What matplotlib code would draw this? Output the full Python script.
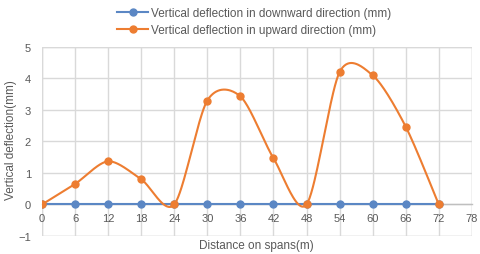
import numpy as np
import matplotlib
matplotlib.use("Agg")
import matplotlib.pyplot as plt
from matplotlib.patches import Rectangle

distance = [0, 6, 12, 18, 24, 30, 36, 42, 48, 54, 60, 66, 72]
downward = [0, 0, 0, 0, 0, 0, 0, 0, 0, 0, 0, 0, 0]
upward = [0, 0.65, 1.37, 0.8, 0, 3.3, 3.43, 1.47, 0, 4.2, 4.1, 2.47, 0]
x_ticks = [0, 6, 12, 18, 24, 30, 36, 42, 48, 54, 60, 66, 72, 78]
y_ticks = [-1, 0, 1, 2, 3, 4, 5]

BLUE = "#5b87c4"
ORANGE = "#ed7d31"
GRID = "#d9d9d9"
TXT = "#595959"
FONT = "Liberation Sans"


def smooth(xs, ys, n=40, k=7.0):
    p = np.column_stack([xs, ys]).astype(float)
    out = []
    m = len(p)
    for i in range(m - 1):
        p0 = p[i - 1] if i > 0 else p[i]
        p1 = p[i]
        p2 = p[i + 1]
        p3 = p[i + 2] if i + 2 < m else p[i + 1]
        c1 = p1 + (p2 - p0) / k
        c2 = p2 - (p3 - p1) / k
        t = np.linspace(0, 1, n)[:, None]
        seg = ((1 - t) ** 3) * p1 + 3 * ((1 - t) ** 2) * t * c1 + 3 * (1 - t) * t ** 2 * c2 + t ** 3 * p2
        out.append(seg if i == 0 else seg[1:])
    s = np.vstack(out)
    return s[:, 0], s[:, 1]


fig = plt.figure(figsize=(4.8, 2.55), dpi=100)
ax = fig.add_axes([0.0875, 0.0706, 0.8955, 0.7414])

ax.set_xlim(0, 78)
ax.set_ylim(-1, 5)
ax.set_xticks(x_ticks)
ax.set_yticks(y_ticks)
ax.grid(True, color=GRID, linewidth=1.0)
ax.set_axisbelow(True)

for s in ["top", "right", "left"]:
    ax.spines[s].set_visible(False)
ax.spines["bottom"].set_position(("data", 0))
ax.spines["bottom"].set_color("#bfbfbf")
ax.spines["bottom"].set_linewidth(1.0)
ax.add_patch(Rectangle((0, 0), 1, 1, transform=ax.transAxes, fill=False,
                       edgecolor=GRID, linewidth=1.0, zorder=0.5))

ax.tick_params(axis="both", length=0, colors=TXT, labelsize=8)
ax.tick_params(axis="x", pad=6)
ax.tick_params(axis="y", pad=8)
for lab in ax.get_xticklabels() + ax.get_yticklabels():
    lab.set_fontfamily(FONT)

sx, sy = smooth(distance, downward)
ax.plot(sx, sy, color=BLUE, linewidth=1.5, zorder=3)
ax.plot(distance, downward, linestyle="none", marker="o", markersize=5,
        color=BLUE, zorder=4)
ux, uy = smooth(distance, upward)
ax.plot(ux, uy, color=ORANGE, linewidth=1.5, zorder=5)
ax.plot(distance, upward, linestyle="none", marker="o", markersize=5,
        color=ORANGE, zorder=6)

h1, = ax.plot([], [], color=BLUE, linewidth=1.5, marker="o", markersize=5,
              label="Vertical deflection in downward direction (mm)")
h2, = ax.plot([], [], color=ORANGE, linewidth=1.5, marker="o", markersize=5,
              label="Vertical deflection in upward direction (mm)")
leg = fig.legend(handles=[h1, h2], loc="upper center", bbox_to_anchor=(0.53, 1.01),
                 frameon=False, ncol=1, handlelength=2.6, handletextpad=0.3,
                 labelspacing=0.45, prop={"family": FONT, "size": 8.5})
for t in leg.get_texts():
    t.set_color(TXT)

fig.text(0.022, 0.45, "Vertical deflection(mm)", rotation=90, ha="center",
         va="center", color=TXT, fontsize=8.5, family=FONT)
fig.text(0.535, 0.035, "Distance on spans(m)", ha="center", va="center",
         color=TXT, fontsize=8.5, family=FONT)

fig.savefig("out.png", dpi=100)
